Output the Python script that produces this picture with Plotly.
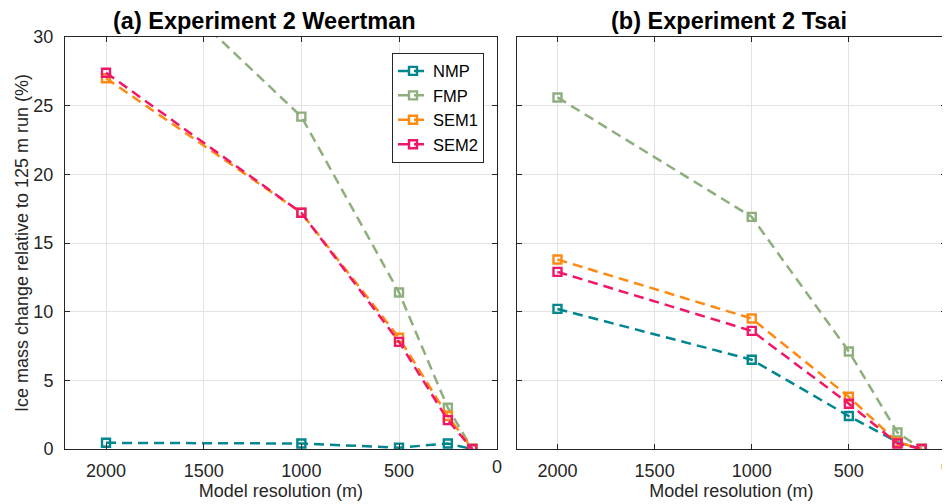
import plotly.graph_objects as go
from plotly.subplots import make_subplots

# model resolution (m)
resolution = [2000, 1000, 500, 250, 125]
x_ticks = [2000, 1500, 1000, 500, 0]

# (a) Experiment 2 Weertman - ice mass change relative to 125 m run (%)
weertman_nmp = [0.45, 0.4, 0.1, 0.4, 0.0]
weertman_fmp = [37.7, 24.2, 11.4, 3.0, 0.0]
weertman_sem1 = [27.0, 17.2, 8.1, 2.4, 0.0]
weertman_sem2 = [27.4, 17.2, 7.8, 2.1, 0.0]

# (b) Experiment 2 Tsai
tsai_nmp = [10.2, 6.5, 2.4, 0.5, 0.0]
tsai_fmp = [25.6, 16.9, 7.1, 1.2, 0.0]
tsai_sem1 = [13.8, 9.5, 3.8, 0.5, 0.0]
tsai_sem2 = [12.9, 8.6, 3.3, 0.4, 0.0]

names = ["NMP", "FMP", "SEM1", "SEM2"]
colors = ["#00868f", "#8fae7e", "#ff8a12", "#f0176a"]

TXT = "#262626"
FONT = "Liberation Sans, Arial, sans-serif"

fig = make_subplots(rows=1, cols=2, horizontal_spacing=0.02)

panels = [
    (1, [weertman_nmp, weertman_fmp, weertman_sem1, weertman_sem2]),
    (2, [tsai_nmp, tsai_fmp, tsai_sem1, tsai_sem2]),
]
for col, series in panels:
    for name, color, vals in zip(names, colors, series):
        fig.add_trace(
            go.Scatter(
                x=resolution, y=vals, name=name,
                mode="lines+markers",
                line=dict(color=color, width=2.5, dash="10px,6px"),
                marker=dict(symbol="square-open", size=8, color=color,
                            line=dict(color=color, width=2.4)),
                showlegend=(col == 1),
            ),
            row=1, col=col,
        )

axis_style = dict(
    showline=True, linecolor=TXT, linewidth=1, mirror="ticks",
    ticks="inside", ticklen=5, tickcolor=TXT,
    showgrid=True, gridcolor="#e3e3e3", gridwidth=1,
    zeroline=False, tickfont=dict(size=18, color=TXT),
    automargin=False,
)

# plotly drops the label of the tick sitting on the range end, so "0" is
# written separately below
fig.update_xaxes(
    range=[2210, 0], tickvals=x_ticks,
    ticktext=[str(v) if v else "" for v in x_ticks], ticklabelstandoff=5,
    title=dict(text="Model resolution (m)", font=dict(size=18, color=TXT), standoff=0),
    **axis_style,
)
fig.update_xaxes(domain=[0.0, 0.49], row=1, col=1)
fig.update_xaxes(domain=[0.5127, 1.0], row=1, col=2)

for xref in ["x", "x2"]:
    fig.add_annotation(text=str(x_ticks[-1]), xref=xref, yref="paper",
                       x=x_ticks[-1], y=0, xanchor="center", yanchor="middle",
                       yshift=-18, showarrow=False, font=dict(size=18, color=TXT))

fig.update_yaxes(range=[0, 30], tickvals=[0, 5, 10, 15, 20, 25, 30],
                 ticklabelstandoff=7, **axis_style)
fig.update_yaxes(
    title=dict(text="Ice mass change relative to 125 m run (%)",
               font=dict(size=18, color=TXT), standoff=0),
    row=1, col=1,
)
fig.update_yaxes(showticklabels=False, row=1, col=2)

fig.add_annotation(text="<b>(a) Experiment 2 Weertman</b>", xref="paper", yref="paper",
                   x=0.2264, y=1.039, xanchor="center", yanchor="middle", showarrow=False,
                   font=dict(size=23.5, color="black"))
fig.add_annotation(text="<b>(b) Experiment 2 Tsai</b>", xref="paper", yref="paper",
                   x=0.7537, y=1.039, xanchor="center", yanchor="middle", showarrow=False,
                   font=dict(size=23.5, color="black"))

# page body has an 8px margin, so the figure is sized to fit the 950x504 window
fig.update_layout(
    width=942, height=496,
    margin=dict(l=57, r=4, t=29, b=55),
    plot_bgcolor="white", paper_bgcolor="white",
    font=dict(family=FONT, size=18, color=TXT),
    legend=dict(
        x=0.4756, y=0.962, xanchor="right", yanchor="top",
        bgcolor="white", bordercolor=TXT, borderwidth=1,
        font=dict(size=16.5, color="black"),
        tracegroupgap=0, itemwidth=30,
    ),
)

fig.write_html("out.html")
